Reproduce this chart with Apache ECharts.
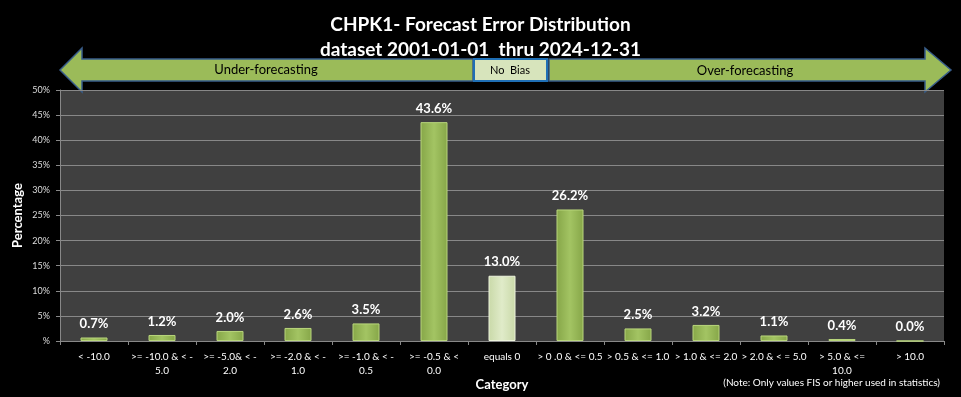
<!DOCTYPE html>
<html><head><meta charset="utf-8">
<script src="https://cdn.jsdelivr.net/npm/echarts@6/dist/echarts.min.js"></script>
<style>html,body{margin:0;padding:0;background:#000;}#c{width:961px;height:397px;}</style>
</head><body><div id="c"></div>
<script>
const categories = ["< -10.0", ">= -10.0 & < -\n5.0", ">= -5.0& < -\n2.0", ">= -2.0 & < -\n1.0", ">= -1.0 & < -\n0.5", ">= -0.5 & <\n0.0", "equals 0", "> 0 .0 & <= 0.5", "> 0.5 & <= 1.0", "> 1.0 & <= 2.0", "> 2.0 & < = 5.0", "> 5.0 & <=\n10.0", "> 10.0"];
const percentages = [0.7, 1.2, 2.0, 2.6, 3.5, 43.6, 13.0, 26.2, 2.5, 3.2, 1.1, 0.4, 0.0];
const titleLines = ["CHPK1- Forecast Error Distribution", "dataset 2001-01-01  thru 2024-12-31"];
const biasLabels = ["Under-forecasting", "No  Bias", "Over-forecasting"];
const noteText = "(Note: Only values FIS or higher used in statistics)";

const font = "Lato, 'Open Sans', sans-serif";
const chart = echarts.init(document.getElementById('c'));
const greenGrad = new echarts.graphic.LinearGradient(0,0,1,0,[
  {offset:0,color:'#86a648'},{offset:0.5,color:'#a3c463'},{offset:1,color:'#86a648'}]);
const paleGrad = new echarts.graphic.LinearGradient(0,0,1,0,[
  {offset:0,color:'#c9d9a8'},{offset:0.5,color:'#e0ebc9'},{offset:1,color:'#c9d9a8'}]);

chart.setOption({
  backgroundColor:'#000',
  animation:false,
  title:[
    {text:titleLines[0], left:'center', top:10, textStyle:{color:'#fff',fontSize:19,fontWeight:'bold',fontFamily:font}},
    {text:titleLines[1], left:'center', top:35, textStyle:{color:'#fff',fontSize:19,fontWeight:'bold',fontFamily:font}}
  ],
  grid:{left:60, right:17, top:90, bottom:56, show:true, backgroundColor:'#404040', borderWidth:0, outerBoundsMode:'none', containLabel:false},
  xAxis:{
    type:'category', data:categories,
    name:'Category', nameLocation:'middle', nameGap:37, nameMoveOverlap:false,
    nameTextStyle:{color:'#fff',fontSize:13,fontWeight:'bold',fontFamily:font},
    axisLine:{lineStyle:{color:'#888',width:1}},
    axisTick:{show:true, length:4, lineStyle:{color:'#888'}},
    axisLabel:{color:'#fff',fontSize:10,fontFamily:font,interval:0,margin:9,lineHeight:14}
  },
  yAxis:{
    type:'value', min:0, max:50, interval:5,
    name:'Percentage', nameLocation:'middle', nameGap:36, nameMoveOverlap:false,
    nameTextStyle:{color:'#fff',fontSize:13,fontWeight:'bold',fontFamily:font},
    axisLine:{show:true, lineStyle:{color:'#888'}},
    axisTick:{show:true, length:4, lineStyle:{color:'#888'}},
    axisLabel:{color:'#ddd',fontSize:9,fontFamily:font,margin:10,formatter:v=> v===0 ? '%' : v+'%'},
    splitLine:{lineStyle:{color:'#888',width:1}}
  },
  series:[{
    type:'bar', barWidth:27,
    data:percentages.map((v,i)=>({value:v, itemStyle:{color: i===6 ? paleGrad : greenGrad, borderColor: i===6 ? '#eef5dd' : '#b9d67c', borderWidth:1}})),
    label:{show:true, position:'top', distance:7, color:'#fff', fontSize:13, fontWeight:'bold', fontFamily:font, formatter:p=>p.value.toFixed(1)+'%'}
  }],
  graphic:[
    {type:'polygon', shape:{points:[[60,70],[82,48],[82,59],[473,59],[473,81],[82,81],[82,92]]},
     style:{fill:'#9bbb59', stroke:'#385d8a', lineWidth:1.5}},
    {type:'rect', shape:{x:474,y:59,width:73,height:22}, style:{fill:'#d7e4bc', stroke:'#1f6fb5', lineWidth:2}},
    {type:'polygon', shape:{points:[[549,59],[925,59],[925,48],[951,70],[925,92],[925,81],[549,81]]},
     style:{fill:'#9bbb59', stroke:'#385d8a', lineWidth:1.5}},
    {type:'text', style:{x:266,y:70,text:biasLabels[0],fill:'#000',font:'13px '+font,align:'center',verticalAlign:'middle'}},
    {type:'text', style:{x:510,y:70,text:biasLabels[1],fill:'#000',font:'11px '+font,align:'center',verticalAlign:'middle'}},
    {type:'text', style:{x:745,y:71,text:biasLabels[2],fill:'#000',font:'13px '+font,align:'center',verticalAlign:'middle'}},
    {type:'text', style:{x:940,y:383,text:noteText,fill:'#fff',font:'10px '+font,align:'right',verticalAlign:'middle'}}
  ]
});
</script></body></html>
